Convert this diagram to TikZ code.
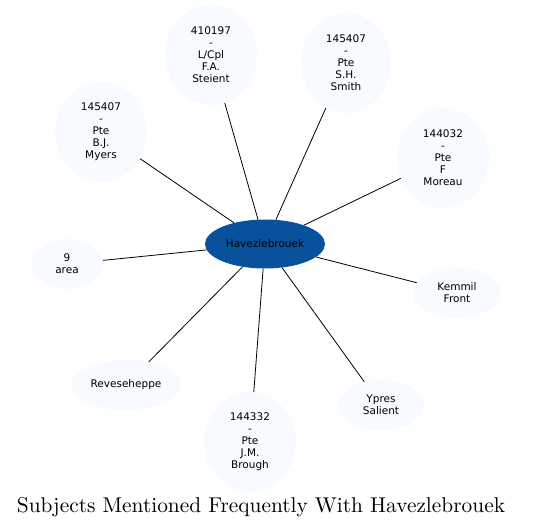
\documentclass[tikz,border=0pt]{standalone}
\usepackage{fontspec}
\setsansfont{DejaVu Sans}
\usetikzlibrary{shapes.geometric}
\definecolor{leaf}{HTML}{F7FBFF}
\definecolor{hub}{HTML}{08519C}
\tikzset{
  leafnode/.style={ellipse, fill=leaf, draw=none, inner sep=0pt, align=center,
    font=\sffamily\fontsize{10.5}{12}\selectfont},
  hubnode/.style={ellipse, fill=hub, draw=none, inner sep=0pt, align=center,
    font=\sffamily\fontsize{10.5}{12}\selectfont},
  link/.style={draw=black, line width=0.8pt}
}
\begin{document}
\begin{tikzpicture}[x=1pt,y=-1pt]
\useasboundingbox (0,0) rectangle (533,529);
\node[hubnode, minimum width=120pt, minimum height=49pt] (hub) at (265,244) {Havezlebrouek};
\node[leafnode, minimum width=92pt, minimum height=100pt] (a) at (211,55) {410197\\-\\L/Cpl\\F.A.\\Steient};
\node[leafnode, minimum width=90pt, minimum height=100pt] (b) at (346,63) {145407\\-\\Pte\\S.H.\\Smith};
\node[leafnode, minimum width=92pt, minimum height=100pt] (c) at (101,132) {145407\\-\\Pte\\B.J.\\Myers};
\node[leafnode, minimum width=92pt, minimum height=100pt] (d) at (443,158) {144032\\-\\Pte\\F\\Moreau};
\node[leafnode, minimum width=72pt, minimum height=50pt] (e) at (67,264) {9\\area};
\node[leafnode, minimum width=88pt, minimum height=50pt] (f) at (457,293) {Kemmil\\Front};
\node[leafnode, minimum width=110pt, minimum height=50pt] (g) at (126,385) {Reveseheppe};
\node[leafnode, minimum width=92pt, minimum height=100pt] (h) at (250,442) {144332\\-\\Pte\\J.M.\\Brough};
\node[leafnode, minimum width=86pt, minimum height=50pt] (i) at (381,405) {Ypres\\Salient};
\foreach \n in {a,b,c,d,e,f,g,h,i} \draw[link] (hub) -- (\n);
\node[inner sep=0pt] (title) at (261,507) {\resizebox{488pt}{!}{\rmfamily\fontsize{10}{12}\selectfont Subjects Mentioned Frequently With Havezlebrouek}};
\end{tikzpicture}
\end{document}
